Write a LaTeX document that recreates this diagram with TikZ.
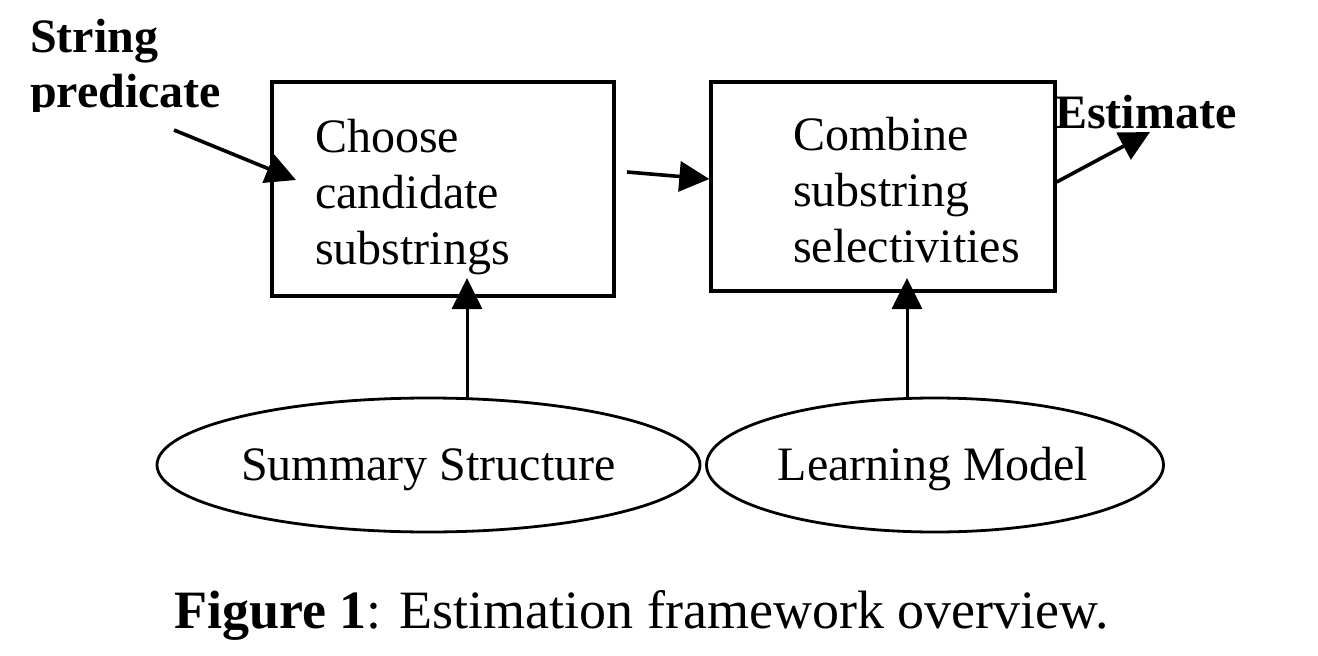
\documentclass[tikz,border=0pt]{standalone}
\usepackage{fontspec}
\setmainfont{Liberation Serif}
\usetikzlibrary{arrows.meta,shapes.geometric}
\tikzset{
  boxst/.style={draw, line width=3.3pt, minimum width=#1, minimum height=214pt, inner sep=0pt},
  bodytxt/.style={font=\fontsize{48}{56}\selectfont, align=left, inner sep=0pt, anchor=north west},
  ellst/.style={draw, ellipse, line width=2.8pt, inner sep=0pt, font=\fontsize{48}{56}\selectfont},
  arr/.style={line width=3.6pt, -{Triangle[length=30pt,width=30pt]}},
  varr/.style={line width=3pt, -{Triangle[length=31pt,width=30pt]}},
}
\begin{document}
\begin{tikzpicture}[x=1pt,y=-1pt]
\useasboundingbox (0,0) rectangle (1318,656);
% boxes
\node[boxst=342pt] (box1) at (443,189) {};
\node[boxst=344pt, minimum height=209pt] (box2) at (883,186.5) {};
\node[bodytxt] (box1txt) at (315,119) {Choose\\candidate\\substrings};
\node[bodytxt] (box2txt) at (793,117) {Combine\\substring\\selectivities};
% input label (clipped at the bottom as in the figure)
\begin{scope}
\clip (0,0) rectangle (400,111);
\node[font=\bfseries\fontsize{48}{55}\selectfont, align=left, inner sep=0pt, anchor=north west] (sp) at (30,19) {String\\predicate};
\end{scope}
\node[font=\bfseries\fontsize{48}{56}\selectfont, inner sep=0pt, anchor=base west] (est) at (1055,128) {Estimate};
% ellipses
\node[ellst, minimum width=543pt, minimum height=134pt] (ell1) at (428.5,465) {};
\node[ellst, minimum width=457pt, minimum height=134pt] (ell2) at (935,465) {};
\node[font=\fontsize{48}{56}\selectfont, inner sep=0pt, anchor=base] (ell1txt) at (428.5,480) {Summary Structure};
\node[font=\fontsize{48}{56}\selectfont, inner sep=0pt, anchor=base] (ell2txt) at (933,480) {Learning Model};
% connector end points
\coordinate (spa) at (174,130);
\coordinate (spb) at (296,180);
\coordinate (mida) at (627,172);
\coordinate (estb) at (1150,132);
\coordinate (u1a) at (467,399);
\coordinate (u1b) at (467,278);
\coordinate (u2a) at (907,399);
\coordinate (u2b) at (907,278);
% connectors
\draw[arr] (spa) -- (spb);
\draw[arr] (mida) -- (box2.west |- 0,179);
\draw[arr] (box2.east |- 0,182) -- (estb);
\draw[varr] (u1a) -- (u1b);
\draw[varr] (u2a) -- (u2b);
% caption
\node[font=\fontsize{54}{60}\selectfont, inner sep=0pt, anchor=base] (cap) at (641.5,628) {\textbf{Figure 1}: Estimation framework overview.};
\end{tikzpicture}
\end{document}
